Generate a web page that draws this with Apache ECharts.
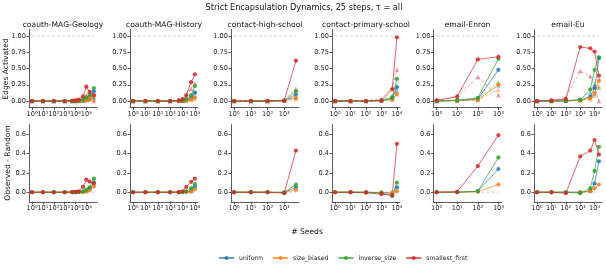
<!DOCTYPE html>
<html><head><meta charset="utf-8">
<script src="https://cdn.jsdelivr.net/npm/echarts@6/dist/echarts.min.js"></script>
<style>html,body{margin:0;padding:0;background:#fff}#c{width:606px;height:266px}</style>
</head><body><div id="c"></div>
<script>
// ---------------- DATA ----------------
const strategies = ['uniform', 'size_biased', 'inverse_size', 'smallest_first'];
const datasetNames = ['coauth-MAG-Geology', 'coauth-MAG-History', 'contact-high-school', 'contact-primary-school', 'email-Enron', 'email-Eu'];

const seedsGeology = [1, 10, 100, 1000, 5000, 10000, 20000, 50000, 100000, 200000, 500000];
const seedsHistory = [1, 10, 100, 1000, 5000, 10000, 20000, 50000, 100000];
const seedsHighSchool = [1, 10, 100, 1000, 5000];
const seedsPrimary = [1, 10, 100, 1000, 5000, 10000];
const seedsEnron = [1, 10, 100, 1000];
const seedsEu = [1, 10, 100, 1000, 5000, 10000, 20000];

// order in each: uniform, size_biased, inverse_size, smallest_first
const geologyObs = [
  [0, 0, 0, 0, 0, 0, 0.003, 0.01, 0.03, 0.07, 0.15],
  [0, 0, 0, 0, 0, 0, 0.002, 0.005, 0.015, 0.04, 0.08],
  [0, 0, 0, 0, 0, 0.003, 0.008, 0.02, 0.05, 0.1, 0.2],
  [0, 0, 0, 0, 0.005, 0.01, 0.02, 0.07, 0.22, 0.14, 0.09]
];
const geologyRand = [
  [0, 0, 0, 0, 0, 0, 0.002, 0.005, 0.015, 0.03, 0.05],
  [0, 0, 0, 0, 0, 0, 0.001, 0.003, 0.01, 0.02, 0.02],
  [0, 0, 0, 0, 0, 0.002, 0.005, 0.012, 0.025, 0.05, 0.06],
  [0, 0, 0, 0, 0.003, 0.006, 0.01, 0.04, 0.09, 0.04, 0.0]
];
const geologyDiff = [
  [0, 0, 0, 0, 0, 0, 0.001, 0.005, 0.015, 0.04, 0.1],
  [0, 0, 0, 0, 0, 0, 0.001, 0.002, 0.005, 0.02, 0.06],
  [0, 0, 0, 0, 0, 0.001, 0.003, 0.008, 0.025, 0.05, 0.14],
  [0, 0, 0, 0, 0.002, 0.004, 0.01, 0.055, 0.13, 0.11, 0.09]
];

const historyObs = [
  [0, 0, 0, 0, 0.002, 0.005, 0.015, 0.05, 0.13],
  [0, 0, 0, 0, 0.001, 0.003, 0.008, 0.02, 0.05],
  [0, 0, 0, 0, 0.003, 0.008, 0.025, 0.09, 0.23],
  [0, 0, 0, 0, 0.01, 0.03, 0.09, 0.29, 0.41]
];
const historyRand = [
  [0, 0, 0, 0, 0.002, 0.004, 0.01, 0.04, 0.08],
  [0, 0, 0, 0, 0.001, 0.002, 0.005, 0.015, 0.03],
  [0, 0, 0, 0, 0.002, 0.005, 0.015, 0.05, 0.14],
  [0, 0, 0, 0, 0.008, 0.02, 0.06, 0.19, 0.27]
];
const historyDiff = [
  [0, 0, 0, 0, 0, 0.001, 0.005, 0.01, 0.055],
  [0, 0, 0, 0, 0, 0.001, 0.003, 0.005, 0.03],
  [0, 0, 0, 0, 0.001, 0.003, 0.01, 0.04, 0.085],
  [0, 0, 0, 0, 0.002, 0.01, 0.055, 0.107, 0.14]
];

const highSchoolObs = [
  [0, 0, 0, 0.004, 0.10],
  [0, 0, 0, 0.003, 0.05],
  [0, 0, 0, 0.005, 0.15],
  [0, 0, 0, 0.005, 0.62]
];
const highSchoolRand = [
  [0, 0, 0, 0.006, 0.05],
  [0, 0, 0, 0.005, 0.025],
  [0, 0, 0, 0.008, 0.07],
  [0, 0, 0, 0.015, 0.19]
];
const highSchoolDiff = [
  [0, 0, 0, -0.002, 0.05],
  [0, 0, 0, -0.002, 0.025],
  [0, 0, 0, -0.003, 0.08],
  [0, 0, 0, -0.01, 0.43]
];

const primaryObs = [
  [0, 0, 0, 0.005, 0.04, 0.21],
  [0, 0, 0, 0.004, 0.02, 0.11],
  [0, 0, 0, 0.006, 0.05, 0.34],
  [0, 0, 0, 0.01, 0.18, 0.98]
];
const primaryRand = [
  [0, 0, 0, 0.01, 0.05, 0.16],
  [0, 0, 0, 0.008, 0.025, 0.10],
  [0, 0, 0, 0.012, 0.09, 0.24],
  [0, 0, 0.005, 0.03, 0.21, 0.48]
];
const primaryDiff = [
  [0, 0, 0, -0.005, -0.01, 0.05],
  [0, 0, 0, -0.004, -0.005, 0.01],
  [0, 0, 0, -0.006, -0.04, 0.10],
  [0, 0, -0.005, -0.02, -0.03, 0.50]
];

const enronObs = [
  [0, 0.01, 0.03, 0.48],
  [0, 0.005, 0.02, 0.25],
  [0, 0.01, 0.05, 0.65],
  [0.01, 0.07, 0.64, 0.68]
];
const enronRand = [
  [0, 0.01, 0.02, 0.24],
  [0, 0.005, 0.015, 0.17],
  [0, 0.01, 0.04, 0.29],
  [0.01, 0.06, 0.37, 0.09]
];
const enronDiff = [
  [0, 0, 0.01, 0.24],
  [0, 0, 0.005, 0.08],
  [0, 0, 0.01, 0.36],
  [0, 0.005, 0.27, 0.59]
];

const euObs = [
  [0, 0, 0.003, 0.01, 0.07, 0.20, 0.66],
  [0, 0, 0.002, 0.01, 0.04, 0.12, 0.31],
  [0, 0, 0.005, 0.02, 0.18, 0.48, 0.67],
  [0, 0.01, 0.03, 0.83, 0.81, 0.76, 0.39]
];
const euRand = [
  [0, 0, 0.003, 0.01, 0.06, 0.11, 0.34],
  [0, 0, 0.002, 0.01, 0.03, 0.08, 0.23],
  [0, 0, 0.005, 0.02, 0.14, 0.26, 0.20],
  [0, 0.01, 0.05, 0.46, 0.38, 0.22, 0.0]
];
const euDiff = [
  [0, 0, 0, 0, 0.01, 0.09, 0.32],
  [0, 0, 0, 0, 0.01, 0.04, 0.08],
  [0, 0, 0, -0.01, 0.04, 0.22, 0.47],
  [0, 0, -0.01, 0.37, 0.43, 0.54, 0.39]
];

const xTickValues = [1, 10, 100, 1000, 10000, 100000];
const xTickLabels = ['10⁰', '10¹', '10²', '10³', '10⁴', '10⁵'];
const topTickValues = [0, 0.25, 0.5, 0.75, 1.0];
const topTickLabels = ['0.00', '0.25', '0.50', '0.75', '1.00'];
const bottomTickValues = [0, 0.2, 0.4, 0.6];
const bottomTickLabels = ['0.0', '0.2', '0.4', '0.6'];

const titleText = 'Strict Encapsulation Dynamics, 25 steps, τ = all';
const yLabelTop = 'Edges Activated';
const yLabelBottom = 'Observed - Random';
const xLabel = '# Seeds';

// ---------------- BUILD ----------------
const panels = [
  {seeds: seedsGeology, obs: geologyObs, rand: geologyRand, diff: geologyDiff},
  {seeds: seedsHistory, obs: historyObs, rand: historyRand, diff: historyDiff},
  {seeds: seedsHighSchool, obs: highSchoolObs, rand: highSchoolRand, diff: highSchoolDiff},
  {seeds: seedsPrimary, obs: primaryObs, rand: primaryRand, diff: primaryDiff},
  {seeds: seedsEnron, obs: enronObs, rand: enronRand, diff: enronDiff},
  {seeds: seedsEu, obs: euObs, rand: euRand, diff: euDiff}
];
const colors = ['#1f77b4', '#ff7f0e', '#2ca02c', '#d62728'];
const FONT = 'DejaVu Sans';
const colLeft = [29, 130, 231, 332, 433.5, 534];
const GW = 68;
const rowTop = [29.5, 124.5];
const rowH = [78, 77.4];
const yRange = [[-0.1, 1.1], [-0.1, 0.7]];

const grids = [], xAxes = [], yAxes = [], series = [], graphics = [];

function fmtX(v) {
  const i = xTickValues.indexOf(Math.round(v));
  return i >= 0 ? xTickLabels[i] : '';
}

for (let r = 0; r < 2; r++) {
  panels.forEach((p, c) => {
    const gi = grids.length;
    grids.push({left: colLeft[c], top: rowTop[r], width: GW, height: rowH[r], containLabel: false});
    const lo = Math.log10(p.seeds[0]), hi = Math.log10(p.seeds[p.seeds.length - 1]);
    const m = 0.05 * (hi - lo);
    const xt = xTickValues.filter(v => v <= p.seeds[p.seeds.length - 1] * 1.0001);
    xAxes.push({
      type: 'log', logBase: 10, gridIndex: gi,
      min: Math.pow(10, lo - m), max: Math.pow(10, hi + m),
      axisLine: {show: true, onZero: false, lineStyle: {color: '#333', width: 0.8}},
      axisTick: {show: true, length: 2.5, lineStyle: {color: '#333', width: 0.8}, customValues: xt},
      axisLabel: {show: true, fontSize: 6.6, fontFamily: FONT, color: '#222', margin: 3, customValues: xt, formatter: fmtX},
      splitLine: {show: false}, minorTick: {show: false}
    });
    const tv = r === 0 ? topTickValues : bottomTickValues;
    const tl = r === 0 ? topTickLabels : bottomTickLabels;
    yAxes.push({
      type: 'value', gridIndex: gi, min: yRange[r][0], max: yRange[r][1],
      axisLine: {show: true, onZero: false, lineStyle: {color: '#333', width: 0.8}},
      axisTick: {show: true, length: 2.5, lineStyle: {color: '#333', width: 0.8}, customValues: tv},
      axisLabel: {show: true, fontSize: 6.6, fontFamily: FONT, color: '#222', margin: 3, customValues: tv,
        formatter: v => { const i = tv.findIndex(t => Math.abs(t - v) < 1e-6); return i >= 0 ? tl[i] : ''; }},
      splitLine: {show: false}
    });
    const refY = r === 0 ? 1 : 0;
    series.push({
      type: 'line', xAxisIndex: gi, yAxisIndex: gi, name: 'ref', silent: true, symbol: 'none',
      data: [[p.seeds[0], refY], [p.seeds[p.seeds.length - 1], refY]],
      lineStyle: {color: '#c4c4c4', width: 0.8, type: [3, 2]}, z: 1
    });
    strategies.forEach((s, k) => {
      if (r === 0) {
        series.push({
          type: 'line', xAxisIndex: gi, yAxisIndex: gi, name: s + ' (random)',
          data: p.seeds.map((x, i) => [x, p.rand[k][i]]),
          symbol: 'triangle', symbolSize: 4.5, showSymbol: true,
          itemStyle: {color: colors[k], opacity: 0.45},
          lineStyle: {color: colors[k], width: 0.9, type: [3, 2], opacity: 0.45}, z: 2
        });
      }
    });
    strategies.forEach((s, k) => {
      const vals = r === 0 ? p.obs[k] : p.diff[k];
      series.push({
        type: 'line', xAxisIndex: gi, yAxisIndex: gi, name: s,
        data: p.seeds.map((x, i) => [x, vals[i]]),
        symbol: 'circle', symbolSize: 4.2, showSymbol: true,
        itemStyle: {color: colors[k], opacity: 0.85},
        lineStyle: {color: colors[k], width: 1, opacity: 0.7}, z: 3
      });
    });
    if (r === 0) {
      graphics.push({type: 'text', x: colLeft[c] + GW / 2, y: 25,
        style: {text: datasetNames[c], font: '7.6px "DejaVu Sans"', fill: '#111', textAlign: 'center', textVerticalAlign: 'middle'}});
    }
  });
}

graphics.push({type: 'text', x: 304, y: 8,
  style: {text: titleText, font: '8.2px "DejaVu Sans"', fill: '#111', textAlign: 'center', textVerticalAlign: 'middle'}});
graphics.push({type: 'text', x: 307, y: 232,
  style: {text: xLabel, font: '7.6px "DejaVu Sans"', fill: '#111', textAlign: 'center', textVerticalAlign: 'middle'}});
graphics.push({type: 'text', x: 6, y: 69, rotation: Math.PI / 2,
  style: {text: yLabelTop, font: '7.6px "DejaVu Sans"', fill: '#111', textAlign: 'center', textVerticalAlign: 'middle'}});
graphics.push({type: 'text', x: 8, y: 163, rotation: Math.PI / 2,
  style: {text: yLabelBottom, font: '7.6px "DejaVu Sans"', fill: '#111', textAlign: 'center', textVerticalAlign: 'middle'}});

const chart = echarts.init(document.getElementById('c'), null, {renderer: 'canvas'});
chart.setOption({
  animation: false,
  backgroundColor: '#fff',
  textStyle: {fontFamily: FONT},
  grid: grids, xAxis: xAxes, yAxis: yAxes, series: series,
  legend: {
    data: strategies, left: 213, top: 250, itemWidth: 15, itemHeight: 5, itemGap: 9,
    textStyle: {fontSize: 6.2, fontFamily: FONT, color: '#222'}, selectedMode: false
  },
  graphic: graphics
});
</script>
</body></html>
